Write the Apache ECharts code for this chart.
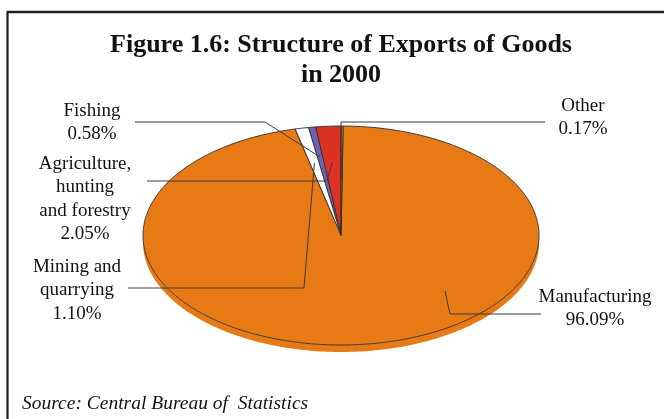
<!DOCTYPE html>
<html>
<head>
<meta charset="utf-8">
<script src="https://cdn.jsdelivr.net/npm/echarts@6/dist/echarts.min.js"></script>
<style>
  html, body { margin: 0; padding: 0; background: #fff; }
  #chart { width: 664px; height: 419px; }
</style>
</head>
<body>
<div id="chart"></div>
<script>
// Export structure, 2000 (share of total goods exports, %)
const categories = ['Agriculture,\nhunting\nand forestry', 'Fishing', 'Mining and\nquarrying', 'Manufacturing', 'Other'];
const shares = [2.05, 0.58, 1.10, 96.09, 0.17];
const sliceColors = ['#DC3222', '#6F62B2', '#FFFFFF', '#E87A16', '#E87A16'];

// Tilted pie geometry (screen px)
const PIE = { cx: 341, cy: 235.5, rx: 198, ry: 109.5, depth: 7 };
const SERIF = '"Liberation Serif", "Times New Roman", serif';

// Label boxes and leader lines: text centre / first line, leader start + elbow,
// and where the leader ends inside its slice (fraction of radius, optional angle)
const labelLayout = [
  { x: 85,  y: 164, line: [[147, 181], [327, 181]], f: 0.67 },
  { x: 92,  y: 111, line: [[135, 122], [265, 122]], f: 0.725 },
  { x: 77,  y: 267, line: [[128, 288], [304, 288]], f: 0.676 },
  { x: 595, y: 297, line: [[541, 314], [450, 314]], f: 0.73, angle: 134 },
  { x: 583, y: 106, line: [[545, 122], [341, 122]], f: 0.5 }
];

const total = shares.reduce((a, b) => a + b, 0);
// slices run counter-clockwise from 12 o'clock; angles in degrees, clockwise positive
const cum = [0];
shares.forEach(v => cum.push(cum[cum.length - 1] + v));
function sliceRange(i) {
  let a = -cum[i + 1] / total * 360;
  const span = shares[i] / total * 360;
  a = ((a % 360) + 360) % 360;
  return [a, a + span];
}
function pt(deg, f, dy) {
  const t = deg * Math.PI / 180;
  return [PIE.cx + PIE.rx * f * Math.sin(t), PIE.cy - PIE.ry * f * Math.cos(t) + (dy || 0)];
}
function arcPoints(a, b, dy) {
  const pts = [];
  const n = Math.max(2, Math.ceil((b - a) / 1));
  for (let k = 0; k <= n; k++) pts.push(pt(a + (b - a) * k / n, 1, dy));
  return pts;
}

const seriesData = shares.map((v, i) => ({ name: categories[i], value: v }));

function renderSide(params, api) {
  const i = params.dataIndex;
  const [a, b] = sliceRange(i);
  const children = [];
  // visible side wall: the front half, 90°..270°
  [[90, 270], [450, 630]].forEach(([lo, hi]) => {
    const s = Math.max(a, lo), e = Math.min(b, hi);
    if (e > s) {
      const top = arcPoints(s, e, 0);
      const bottom = arcPoints(s, e, PIE.depth).reverse();
      children.push({
        type: 'polygon',
        shape: { points: top.concat(bottom) },
        style: { fill: sliceColors[i], stroke: null }
      });
    }
  });
  return { type: 'group', children };
}

function renderTop(params, api) {
  const i = params.dataIndex;
  const [a, b] = sliceRange(i);
  const pts = [[PIE.cx, PIE.cy]].concat(arcPoints(a, b, 0));
  return {
    type: 'polygon',
    shape: { points: pts },
    style: { fill: sliceColors[i], stroke: '#2f2f2f', lineWidth: 0.9, lineJoin: 'round' }
  };
}

function renderLabel(params, api) {
  const i = params.dataIndex;
  const L = labelLayout[i];
  const [a, b] = sliceRange(i);
  const ang = L.angle != null ? L.angle : (a + b) / 2;
  const tip = pt(ang, L.f, 0);
  const text = categories[i] + '\n' + api.value(0).toFixed(2) + '%';
  const lh = 23.5;
  return {
    type: 'group',
    children: [
      {
        type: 'polyline',
        shape: { points: [L.line[0], L.line[1], tip] },
        style: { stroke: '#3a3a3a', lineWidth: 1, fill: null }
      },
      {
        type: 'text',
        x: L.x, y: L.y - lh / 2,
        style: {
          text: text, fill: '#111', font: '19px ' + SERIF,
          align: 'center', verticalAlign: 'top', lineHeight: lh
        }
      }
    ]
  };
}

const chart = echarts.init(document.getElementById('chart'), null, { renderer: 'canvas' });
chart.setOption({
  backgroundColor: '#ffffff',
  animation: false,
  graphic: [
    { type: 'line', shape: { x1: 7, y1: 12, x2: 664, y2: 12 }, style: { stroke: '#222', lineWidth: 2.5 } },
    { type: 'line', shape: { x1: 7.5, y1: 11, x2: 7.5, y2: 419 }, style: { stroke: '#222', lineWidth: 2.2 } },
    {
      type: 'text', x: 341, y: 30,
      style: {
        text: 'Figure 1.6: Structure of Exports of Goods\nin 2000',
        font: 'bold 26px ' + SERIF, fill: '#111', align: 'center', lineHeight: 30
      }
    },
    {
      type: 'text', x: 22, y: 394,
      style: {
        text: 'Source: Central Bureau of  Statistics',
        font: 'italic 19.5px ' + SERIF, fill: '#111', align: 'left'
      }
    }
  ],
  series: [
    { type: 'custom', coordinateSystem: 'none', z: 1, renderItem: renderSide, data: seriesData, silent: true },
    { type: 'custom', coordinateSystem: 'none', z: 2, renderItem: renderTop, data: seriesData, silent: true },
    { type: 'custom', coordinateSystem: 'none', z: 3, renderItem: renderLabel, data: seriesData, silent: true }
  ]
});
</script>
</body>
</html>
